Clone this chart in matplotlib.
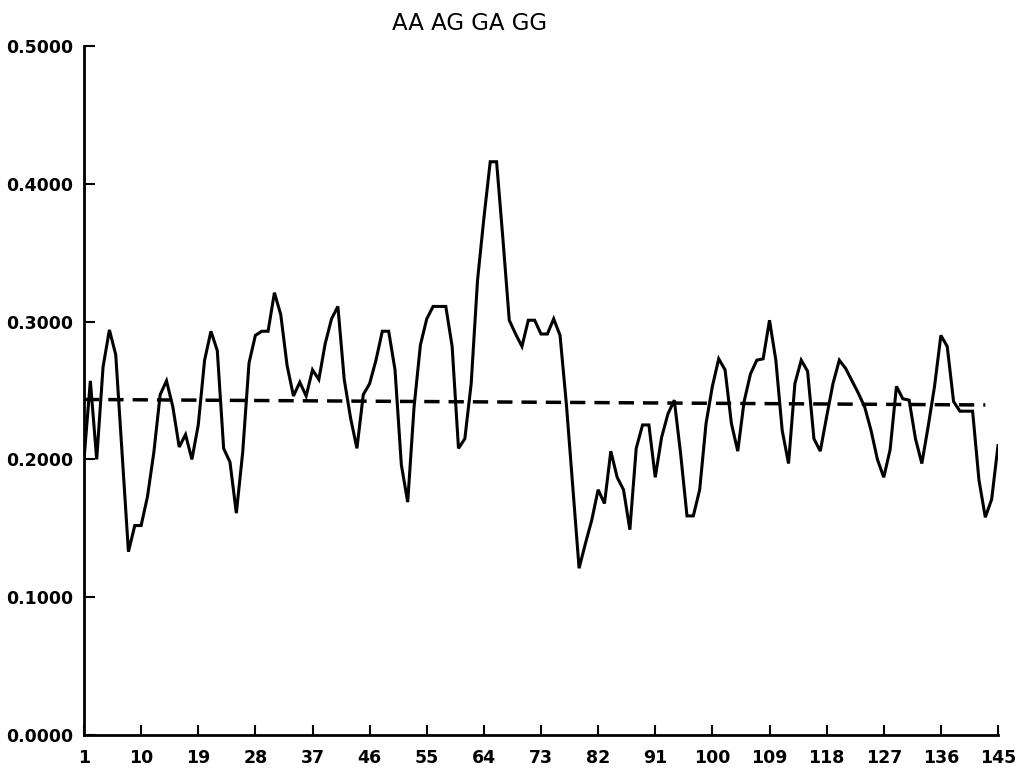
"""
AA AG GA GG sliding window profile
"""

import matplotlib
matplotlib.use('Agg')
import matplotlib.pyplot as plt
import numpy as np

matplotlib.rcParams['font.family'] = 'DejaVu Sans'
matplotlib.rcParams['lines.scale_dashes'] = False

# ============================================================
# Data
# ============================================================
positions = list(range(1, 146))
frequency = [
    0.200, 0.257, 0.200, 0.267, 0.294, 0.276, 0.205, 0.133, 0.152, 0.152,
    0.173, 0.205, 0.247, 0.257, 0.238, 0.209, 0.218, 0.200, 0.225, 0.272,
    0.293, 0.279, 0.208, 0.198, 0.161, 0.205, 0.270, 0.290, 0.293, 0.293,
    0.321, 0.305, 0.268, 0.246, 0.256, 0.246, 0.265, 0.258, 0.284, 0.302,
    0.311, 0.258, 0.230, 0.208, 0.247, 0.255, 0.272, 0.293, 0.293, 0.265,
    0.196, 0.169, 0.238, 0.283, 0.302, 0.311, 0.311, 0.311, 0.282, 0.208,
    0.215, 0.255, 0.330, 0.375, 0.416, 0.416, 0.360, 0.301, 0.291, 0.282,
    0.301, 0.301, 0.291, 0.291, 0.302, 0.290, 0.240, 0.180, 0.121, 0.139,
    0.156, 0.178, 0.168, 0.206, 0.187, 0.178, 0.149, 0.208, 0.225, 0.225,
    0.187, 0.216, 0.233, 0.243, 0.204, 0.159, 0.159, 0.178, 0.226, 0.253,
    0.273, 0.265, 0.226, 0.206, 0.242, 0.262, 0.272, 0.273, 0.301, 0.272,
    0.221, 0.197, 0.255, 0.272, 0.264, 0.215, 0.206, 0.231, 0.255, 0.272,
    0.266, 0.257, 0.248, 0.238, 0.221, 0.200, 0.187, 0.207, 0.253, 0.244,
    0.243, 0.215, 0.197, 0.224, 0.253, 0.290, 0.282, 0.242, 0.235, 0.235,
    0.235, 0.185, 0.158, 0.171, 0.210,
]

# overall trend (dashed)
trend_x = [1, 143]
trend_y = [0.2435, 0.2395]

xtick_vals = [1, 10, 19, 28, 37, 46, 55, 64, 73, 82, 91, 100, 109, 118, 127, 136, 145]
ytick_vals = [0.0, 0.1, 0.2, 0.3, 0.4, 0.5]
ytick_labels = ['0.0000', '0.1000', '0.2000', '0.3000', '0.4000', '0.5000']
title = 'AA AG GA GG'


fig = plt.figure(figsize=(10.2, 7.77), dpi=100)
ax = fig.add_axes([84 / 1020, 42 / 777, (998 - 84) / 1020, (735 - 46) / 777])

ax.plot(positions, frequency, color='black', linewidth=2.2, solid_joinstyle='miter')
ax.plot(trend_x, trend_y, color='black', linewidth=2.5, dashes=(11, 6.5))

ax.set_xlim(1, 145)
ax.set_ylim(0, 0.5)
ax.set_xticks(xtick_vals)
ax.set_xticklabels([str(v) for v in xtick_vals])
ax.set_yticks(ytick_vals)
ax.set_yticklabels(ytick_labels)

ax.tick_params(axis='x', direction='in', length=7, width=1.5, pad=10,
               labelsize=12.5)
ax.tick_params(axis='y', direction='in', length=8, width=1.5, pad=8,
               labelsize=12.5)
for lbl in ax.get_xticklabels() + ax.get_yticklabels():
    lbl.set_fontweight('bold')

ax.spines['top'].set_visible(False)
ax.spines['right'].set_visible(False)
ax.spines['left'].set_linewidth(2)
ax.spines['bottom'].set_linewidth(2)

fig.text(470 / 1020, 1 - 24 / 777, title, ha='center', va='center', fontsize=16.5)

fig.savefig('out.png', dpi=100)
print('Saved: out.png')
